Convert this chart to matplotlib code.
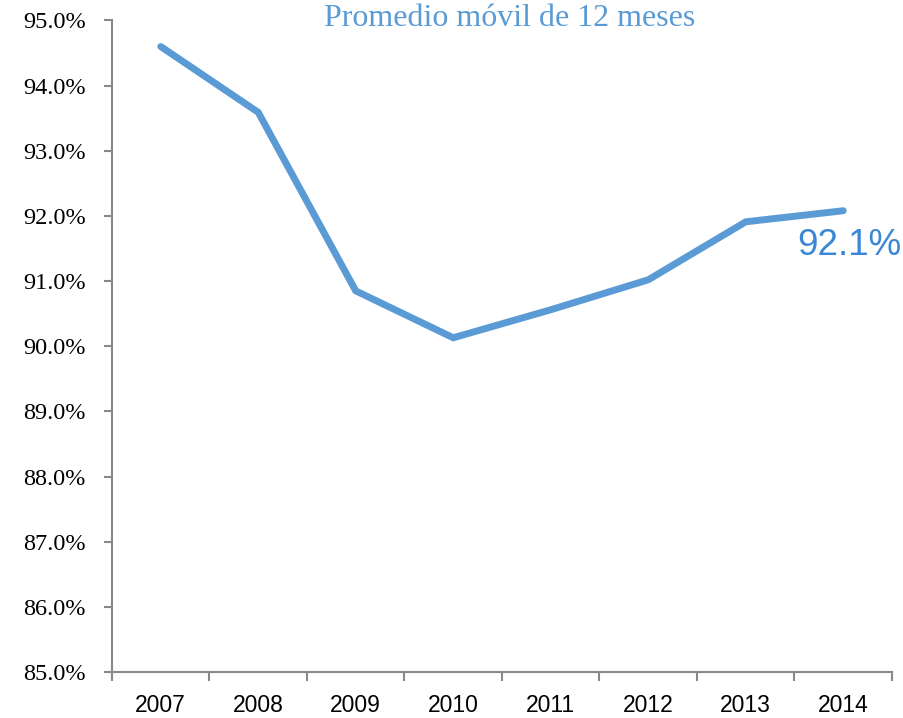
import matplotlib
matplotlib.use("Agg")
import matplotlib.pyplot as plt
import numpy as np
from matplotlib.ticker import FuncFormatter, FixedLocator

years = ["2007", "2008", "2009", "2010", "2011", "2012", "2013", "2014"]
values = [94.6, 93.59, 90.85, 90.13, 90.56, 91.02, 91.91, 92.08]
title = "Promedio móvil de 12 meses"
end_label = "92.1%"

fig = plt.figure(figsize=(9.04, 7.18), dpi=100)
ax = fig.add_axes([112/904, 46/718, 780/904, 651.5/718])

x = np.arange(len(years))
line_color = "#5b9bd5"
ax.plot(x, values, color=line_color, lw=5, solid_capstyle="round", solid_joinstyle="miter")

ax.set_xlim(-0.5, len(years) - 0.5)
ax.set_ylim(85, 95)
ax.set_yticks(np.arange(85, 95.01, 1))
ax.yaxis.set_major_formatter(FuncFormatter(lambda v, p: f"{v:.1f}%"))

ax.set_xticks(x)
ax.set_xticklabels(years)
ax.xaxis.set_minor_locator(FixedLocator(np.arange(-0.5, len(years) + 0.5, 1)))
ax.tick_params(axis="x", which="major", length=0, pad=16, labelsize=16.5)
ax.tick_params(axis="x", which="minor", length=6.5, width=1.5, color="#898989")
ax.tick_params(axis="y", which="major", length=6, width=1.5, color="#898989", labelsize=17.5, pad=13)
for lbl in ax.get_xticklabels():
    lbl.set_fontfamily("Liberation Sans")
for lbl in ax.get_yticklabels():
    lbl.set_fontfamily("Liberation Serif")

for s in ["top", "right"]:
    ax.spines[s].set_visible(False)
for s in ["left", "bottom"]:
    ax.spines[s].set_color("#898989")
    ax.spines[s].set_linewidth(1.5)

fig.text(510/904, 1 - 26/718, title, ha="center", va="baseline", fontsize=23,
         family="Liberation Serif", color=line_color)

ax.annotate(end_label, xy=(x[-1], values[-1]), xytext=(-33, -25), textcoords="offset points",
            ha="left", va="center", fontsize=26.5, family="Liberation Sans", color="#3a87d6")

fig.savefig("out.png", dpi=100)
